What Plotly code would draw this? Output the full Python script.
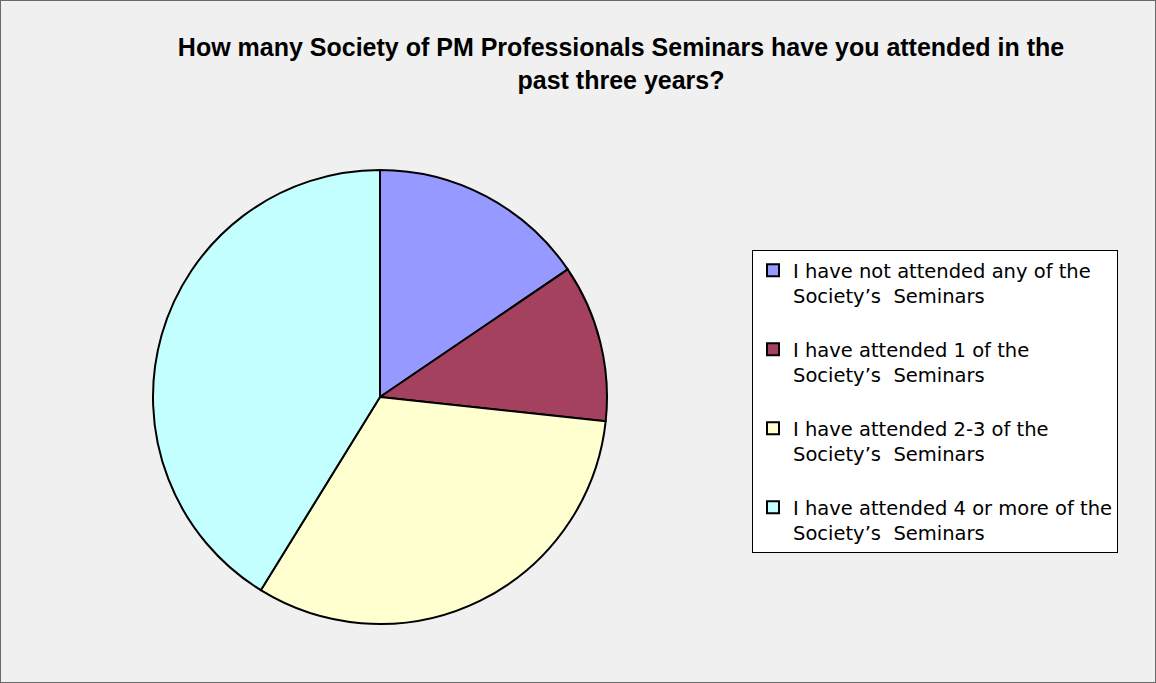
import plotly.graph_objects as go

labels = [
    "I have not attended any of the<br>Society’s  Seminars<br> ",
    "I have attended 1 of the<br>Society’s  Seminars<br> ",
    "I have attended 2-3 of the<br>Society’s  Seminars<br> ",
    "I have attended 4 or more of the<br>Society’s  Seminars",
]
values = [15.5, 11.2, 32.1, 41.2]
colors = ["#9699FF", "#A3415F", "#FFFFD0", "#C4FFFF"]

W, H = 1156, 683
cx, cy, r = 380, 397, 227

fig = go.Figure(go.Pie(
    labels=labels,
    values=values,
    sort=False,
    direction="clockwise",
    rotation=0,
    textinfo="none",
    marker=dict(colors=colors, line=dict(color="black", width=2)),
    domain=dict(x=[(cx - r) / W, (cx + r) / W], y=[(H - cy - r) / H, (H - cy + r) / H]),
))

fig.update_layout(
    width=W, height=H,
    margin=dict(l=0, r=0, t=0, b=0),
    paper_bgcolor="#F0F0F0",
    font=dict(family="Arial, Liberation Sans, sans-serif", color="black"),
    title=dict(
        text="<b>How many Society of PM Professionals Seminars have you attended in the<br>past three years?</b>",
        x=621 / W, xanchor="center", y=1 - 56 / H, yanchor="top",
        font=dict(size=25, family="Arial, Liberation Sans, sans-serif", color="black"),
    ),
    legend=dict(
        x=752 / W, xanchor="left", y=1 - 250 / H, yanchor="top",
        bgcolor="white", bordercolor="black", borderwidth=1,
        font=dict(size=19.5, family="DejaVu Sans, Arial, sans-serif", color="black"),
        valign="top",
        itemwidth=30,
        tracegroupgap=0,
    ),
    shapes=[dict(type="rect", xref="paper", yref="paper", x0=0, y0=0, x1=1, y1=1,
                 line=dict(color="#6A6A6A", width=2), fillcolor="rgba(0,0,0,0)")],
)

fig.write_html("out.html", config={"displayModeBar": False},
               post_script="document.body.style.margin='0';document.body.style.overflow='hidden';")
